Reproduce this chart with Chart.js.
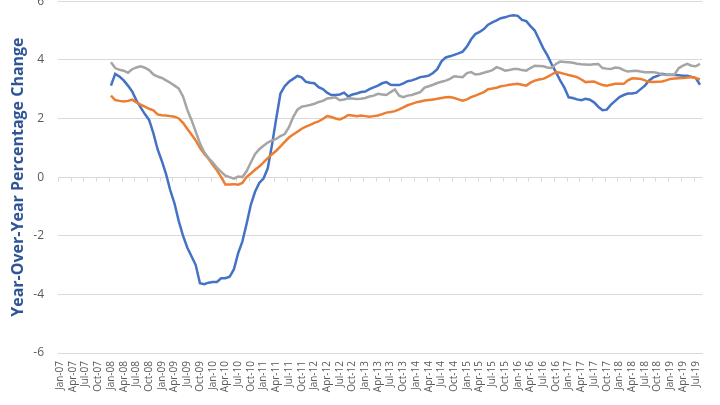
<!DOCTYPE html>
<html>
<head>
<meta charset="utf-8">
<script src="https://cdn.jsdelivr.net/npm/chart.js@4.4.0/dist/chart.umd.min.js"></script>
<style>
  html, body { margin: 0; padding: 0; background: #ffffff; overflow: hidden; }
  #contenedor { position: absolute; left: 0; top: -20px; width: 720px; height: 425px; }
</style>
</head>
<body>
<div id="contenedor"><canvas id="myChart"></canvas></div>
<script>
// Categorías: un mes por punto, Jan-07 hasta Aug-19
const MESES = ["Jan", "Feb", "Mar", "Apr", "May", "Jun", "Jul", "Aug", "Sep", "Oct", "Nov", "Dec"];
const ANIOS = ["07", "08", "09", "10", "11", "12", "13", "14", "15", "16", "17", "18", "19"];
const ULTIMO_MES_2019 = 8;

// Los datos empiezan en Jan-08 (los meses de 2007 van vacíos)
const MESES_SIN_DATOS = 12;

// Serie azul (Jan-08 ... Aug-19)
const serieAzul = [
    3.12, 3.52, 3.43, 3.3, 3.12, 2.92, 2.62, 2.38, 2.15, 1.95, 1.5, 0.95,
    0.55, 0.1, -0.45, -0.9, -1.5, -2.0, -2.4, -2.7, -3.0, -3.62, -3.65, -3.6,
    -3.58, -3.58, -3.45, -3.45, -3.4, -3.15, -2.6, -2.2, -1.6, -0.95, -0.5, -0.2,
    -0.05, 0.3, 1.1, 2.0, 2.85, 3.1, 3.25, 3.35, 3.45, 3.4, 3.25, 3.22,
    3.2, 3.07, 3.0, 2.88, 2.8, 2.8, 2.82, 2.88, 2.75, 2.82, 2.85, 2.9,
    2.92, 3.0, 3.06, 3.12, 3.2, 3.24, 3.15, 3.14, 3.14, 3.2, 3.27, 3.3,
    3.35, 3.41, 3.43, 3.46, 3.55, 3.68, 3.95, 4.08, 4.12, 4.17, 4.22, 4.28,
    4.45, 4.7, 4.88, 4.95, 5.05, 5.2, 5.28, 5.35, 5.42, 5.45, 5.5, 5.52,
    5.5, 5.36, 5.32, 5.15, 5.0, 4.7, 4.4, 4.15, 3.85, 3.58, 3.3, 3.05,
    2.72, 2.7, 2.65, 2.62, 2.67, 2.64, 2.55, 2.4, 2.28, 2.3, 2.47, 2.6,
    2.73, 2.8, 2.85, 2.85, 2.88, 3.0, 3.12, 3.3, 3.4, 3.45, 3.52, 3.5,
    3.49, 3.48, 3.47, 3.46, 3.46, 3.42, 3.38, 3.15
];

// Serie naranja
const serieNaranja = [
    2.78, 2.63, 2.6, 2.58, 2.6, 2.64, 2.55, 2.47, 2.4, 2.33, 2.28, 2.14,
    2.11, 2.1, 2.08, 2.06, 2.0, 1.85, 1.65, 1.45, 1.25, 1.0, 0.8, 0.63,
    0.42, 0.23, 0.0, -0.25, -0.25, -0.24, -0.26, -0.2, 0.0, 0.12, 0.25, 0.36,
    0.5, 0.65, 0.78, 0.9, 1.05, 1.2, 1.35, 1.45, 1.55, 1.65, 1.72, 1.78,
    1.85, 1.9, 1.98, 2.08, 2.05, 2.0, 1.97, 2.03, 2.12, 2.1, 2.08, 2.1,
    2.08, 2.06, 2.08, 2.1, 2.15, 2.2, 2.22, 2.25, 2.31, 2.38, 2.45, 2.5,
    2.55, 2.58, 2.61, 2.63, 2.65, 2.67, 2.7, 2.72, 2.73, 2.7, 2.65, 2.61,
    2.65, 2.73, 2.78, 2.84, 2.9, 3.0, 3.02, 3.05, 3.1, 3.12, 3.15, 3.17,
    3.18, 3.15, 3.12, 3.22, 3.29, 3.33, 3.35, 3.42, 3.5, 3.58, 3.56, 3.52,
    3.48, 3.45, 3.41, 3.33, 3.24, 3.25, 3.26, 3.2, 3.14, 3.12, 3.15, 3.18,
    3.18, 3.18, 3.3, 3.37, 3.36, 3.35, 3.3, 3.25, 3.24, 3.25, 3.26, 3.3,
    3.35, 3.36, 3.37, 3.38, 3.4, 3.41, 3.38, 3.33
];

// Serie gris
const serieGris = [
    3.92, 3.72, 3.66, 3.63, 3.56, 3.68, 3.74, 3.78, 3.73, 3.65, 3.5, 3.43,
    3.38, 3.3, 3.22, 3.12, 3.02, 2.75, 2.3, 1.95, 1.55, 1.15, 0.85, 0.65,
    0.5, 0.32, 0.18, 0.05, 0.0, -0.05, 0.02, 0.0, 0.2, 0.5, 0.78, 0.95,
    1.07, 1.18, 1.25, 1.3, 1.4, 1.47, 1.7, 2.05, 2.3, 2.4, 2.43, 2.46,
    2.5, 2.56, 2.6, 2.68, 2.7, 2.72, 2.62, 2.65, 2.69, 2.68, 2.66, 2.67,
    2.7, 2.75, 2.78, 2.84, 2.82, 2.8, 2.9, 2.99, 2.78, 2.73, 2.78, 2.8,
    2.85, 2.9, 3.05, 3.1, 3.15, 3.21, 3.25, 3.29, 3.35, 3.44, 3.42, 3.41,
    3.55, 3.58, 3.5, 3.52, 3.56, 3.6, 3.65, 3.75, 3.7, 3.63, 3.65, 3.69,
    3.69, 3.65, 3.63, 3.72, 3.8, 3.79, 3.78, 3.74, 3.72, 3.86, 3.94, 3.93,
    3.92, 3.9, 3.87, 3.85, 3.84, 3.83, 3.85, 3.86, 3.72, 3.7, 3.69, 3.74,
    3.72, 3.65, 3.6, 3.62, 3.63, 3.6, 3.58, 3.58, 3.58, 3.55, 3.5, 3.48,
    3.48, 3.5, 3.72, 3.8, 3.86, 3.8, 3.78, 3.86
];

// Eje Y
const Y_MIN = -6;
const Y_MAX = 6;
const Y_PASO = 2;
const TITULO_Y = "Year-Over-Year Percentage Change";

// Cada cuántos meses se pone etiqueta en el eje X
const CADA_N_MESES = 3;

const COLOR_GRILLA = "#D9D9D9";
const COLOR_TEXTO = "#595959";

/**
 * Arma la lista de categorías "Jan-07", "Feb-07", ...
 */
function armarCategorias() {
    const lista = [];
    ANIOS.forEach((anio, i) => {
        const meses = i === ANIOS.length - 1 ? ULTIMO_MES_2019 : 12;
        for (let m = 0; m < meses; m++) {
            lista.push(MESES[m] + "-" + anio);
        }
    });
    return lista;
}

/**
 * Antepone los meses vacíos a una serie
 */
function completarSerie(valores) {
    return new Array(MESES_SIN_DATOS).fill(null).concat(valores);
}

// Plugin: marcas pequeñas sobre la línea del cero (como el eje de Excel)
const marcasEjeCero = {
    id: "marcasEjeCero",
    beforeDatasetsDraw(chart) {
        const { ctx, scales: { x, y } } = chart;
        const y0 = Math.round(y.getPixelForValue(0)) + 0.5;
        const ancho = x.getPixelForValue(1) - x.getPixelForValue(0);
        ctx.save();
        ctx.strokeStyle = COLOR_GRILLA;
        ctx.lineWidth = 1;
        ctx.beginPath();
        for (let i = 0; i <= categorias.length; i += CADA_N_MESES) {
            const px = Math.round(x.getPixelForValue(i) - ancho / 2) + 0.5;
            ctx.moveTo(px, y0);
            ctx.lineTo(px, y0 + 4);
        }
        ctx.stroke();
        ctx.restore();
    }
};

const categorias = armarCategorias();

function serie(valores, color, orden) {
    return {
        data: completarSerie(valores),
        borderColor: color,
        backgroundColor: color,
        borderWidth: 2.5,
        pointRadius: 0,
        tension: 0,
        fill: false,
        order: orden,
        spanGaps: false
    };
}

new Chart(document.getElementById("myChart").getContext("2d"), {
    type: "line",
    data: {
        labels: categorias,
        datasets: [
            serie(serieAzul, "#4472C4", 2),
            serie(serieNaranja, "#ED7D31", 1),
            serie(serieGris, "#A5A5A5", 0)
        ]
    },
    options: {
        responsive: true,
        maintainAspectRatio: false,
        animation: false,
        layout: {
            padding: { top: 20, right: 5, bottom: 0, left: 0 }
        },
        plugins: {
            legend: { display: false },
            tooltip: { enabled: false }
        },
        scales: {
            x: {
                offset: true,
                grid: { display: false, drawTicks: false },
                border: { display: true, color: COLOR_GRILLA, width: 1 },
                ticks: {
                    autoSkip: false,
                    minRotation: 90,
                    maxRotation: 90,
                    padding: 8,
                    color: COLOR_TEXTO,
                    font: { family: "'Open Sans', sans-serif", size: 10 },
                    callback: function (valor, indice) {
                        return indice % CADA_N_MESES === 0 ? categorias[indice] : "";
                    }
                },
                afterFit: function (escala) {
                    escala.height = 52;
                }
            },
            y: {
                min: Y_MIN,
                max: Y_MAX,
                grid: { color: COLOR_GRILLA, lineWidth: 1, drawTicks: false },
                border: { display: false },
                ticks: {
                    stepSize: Y_PASO,
                    padding: 14,
                    color: COLOR_TEXTO,
                    font: { family: "'Open Sans', sans-serif", size: 12 }
                },
                title: {
                    display: true,
                    text: TITULO_Y,
                    color: "#2F5597",
                    padding: { top: 9, bottom: 0 },
                    font: { family: "'Open Sans', sans-serif", size: 16, weight: "bold" }
                },
                afterFit: function (escala) {
                    escala.width = 58;
                }
            }
        }
    },
    plugins: [marcasEjeCero]
});
</script>
</body>
</html>
